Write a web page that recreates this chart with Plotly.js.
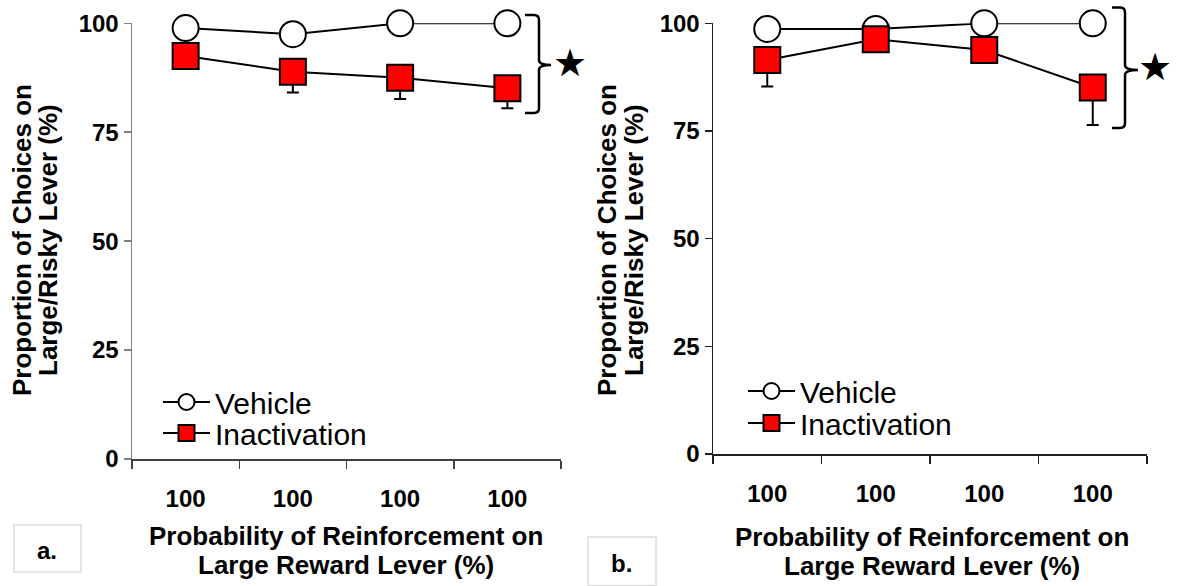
<!DOCTYPE html>
<html>
<head>
<meta charset="utf-8">
<script src="https://cdn.plot.ly/plotly-3.0.1.min.js"></script>
<style>html,body{margin:0;padding:0;background:#fff;}#chart{width:1177px;height:586px;}</style>
</head>
<body>
<div id="chart"></div>
<script>
// ---- data ----
const categories = [0, 1, 2, 3];
const tickLabels = ["100", "100", "100", "100"];
const vehicleA = [98.9, 97.5, 100, 100];
const inactA = [92.5, 88.9, 87.5, 85.1];
const inactAErr = [1.0, 4.8, 4.9, 4.6];
const vehicleB = [98.7, 98.7, 100, 100];
const inactB = [91.5, 96.3, 93.8, 85.1];
const inactBErr = [6.2, 1.5, 1.5, 8.7];
const seriesNames = ["Vehicle", "Inactivation"];
const yTicks = [0, 25, 50, 75, 100];

// ---- layout helpers (pixel -> paper) ----
const W = 1177, H = 586;
const px = x => x / W;
const py = y => (H - y) / H;
const FONT = "Liberation Sans, Arial, sans-serif";

function vehTrace(y, xa, ya, leg) {
  return {x: categories, y: y, xaxis: xa, yaxis: ya, name: seriesNames[0], legend: leg,
    mode: "lines+markers", line: {color: "#000", width: 2},
    marker: {symbol: "circle", size: 26, color: "#fff", line: {color: "#000", width: 2}},
    cliponaxis: false};
}
function inaTrace(y, err, xa, ya, leg) {
  return {x: categories, y: y, xaxis: xa, yaxis: ya, name: seriesNames[1], legend: leg,
    mode: "lines+markers", line: {color: "#000", width: 2},
    marker: {symbol: "square", size: 26, color: "#ff0000", line: {color: "#000", width: 2}},
    error_y: {type: "data", symmetric: false, array: [0,0,0,0], arrayminus: err, color: "#000", thickness: 2, width: 6},
    cliponaxis: false};
}

const data = [
  vehTrace(vehicleA, "x", "y", "legend"),
  inaTrace(inactA, inactAErr, "x", "y", "legend2"),
  vehTrace(vehicleB, "x2", "y2", "legend3"),
  inaTrace(inactB, inactBErr, "x2", "y2", "legend4")
];

function xAxis(d, anchor, col) {
  return {domain: d, anchor: anchor, range: [-0.5, 3.5], fixedrange: true,
    tickmode: "array", tickvals: categories, ticktext: tickLabels,
    ticks: "outside", ticklen: 18, tickcolor: "rgba(0,0,0,0)",
    minor: {tickmode: "linear", tick0: -0.5, dtick: 1, ticks: "outside", ticklen: 8, tickwidth: 1.5, tickcolor: col},
    showline: true, linecolor: col, linewidth: 1.5, showgrid: false, zeroline: false,
    tickfont: {family: FONT, size: 24, color: "#000", weight: "bold"}};
}
function yAxis(d, anchor, col) {
  return {domain: d, anchor: anchor, range: [0, 100], fixedrange: true,
    tickmode: "array", tickvals: yTicks, ticks: "outside", ticklen: 7, tickwidth: 1.5, tickcolor: col,
    showline: true, linecolor: col, linewidth: 1.5, showgrid: false, zeroline: false,
    tickfont: {family: FONT, size: 24, color: "#000", weight: "bold"}};
}

function legendAt(x, y) {
  return {x: px(x), y: py(y), xanchor: "left", yanchor: "middle", bgcolor: "rgba(0,0,0,0)",
    borderwidth: 0, itemwidth: 47, font: {family: FONT, size: 30, color: "#000"}};
}

function brace(x0, xv, xt, yt, yb, ym) {
  const r = 5;
  const P = (x, y) => px(x).toFixed(5) + "," + py(y).toFixed(5);
  return "M" + P(x0, yt) + " L" + P(xv - r, yt) + " Q" + P(xv, yt) + " " + P(xv, yt + r) +
    " L" + P(xv, ym - r) + " Q" + P(xv, ym) + " " + P(xt, ym) + " Q" + P(xv, ym) + " " + P(xv, ym + r) +
    " L" + P(xv, yb - r) + " Q" + P(xv, yb) + " " + P(xv - r, yb) + " L" + P(x0, yb);
}

const bold = (s) => ({family: FONT, size: s, color: "#000", weight: "bold"});
function ann(text, x, y, font, angle) {
  return {text: text, x: px(x), y: py(y), xref: "paper", yref: "paper", showarrow: false,
    xanchor: "center", yanchor: "middle", font: font, textangle: angle || 0};
}

const layout = {
  width: W, height: H, margin: {l: 0, r: 0, t: 0, b: 0},
  paper_bgcolor: "#fff", plot_bgcolor: "rgba(0,0,0,0)", showlegend: true,
  xaxis: xAxis([px(132), px(561)], "y", "#404040"),
  yaxis: yAxis([py(459), py(23.3)], "x", "#808080"),
  xaxis2: xAxis([px(713), px(1147)], "y2", "#202020"),
  yaxis2: yAxis([py(454), py(23.3)], "x2", "#202020"),
  legend: legendAt(158, 402),
  legend2: legendAt(158, 433),
  legend3: legendAt(743, 391),
  legend4: legendAt(743, 423),
  shapes: [
    {type: "path", xref: "paper", yref: "paper", path: brace(525, 539, 551, 15, 113, 65), line: {color: "#000", width: 2.5}},
    {type: "path", xref: "paper", yref: "paper", path: brace(1112, 1125, 1138, 7.5, 128, 70), line: {color: "#000", width: 2.5}},
    {type: "rect", xref: "paper", yref: "paper", x0: px(14), x1: px(81), y0: py(525), y1: py(572), line: {color: "#dddddd", width: 1.5}},
    {type: "rect", xref: "paper", yref: "paper", x0: px(588), x1: px(656), y0: py(537), y1: py(585.5), line: {color: "#dddddd", width: 1.5}}
  ],
  annotations: [
    ann("★", 570, 63, {family: "DejaVu Sans", size: 38, color: "#000"}),
    ann("★", 1155, 67, {family: "DejaVu Sans", size: 38, color: "#000"}),
    ann("Proportion of Choices on", 22, 240, bold(26), -90),
    ann("Large/Risky Lever (%)", 48, 240, bold(26), -90),
    ann("Proportion of Choices on", 607, 240, bold(26), -90),
    ann("Large/Risky Lever (%)", 634, 240, bold(26), -90),
    ann("Probability of Reinforcement on", 346, 536, bold(26)),
    ann("Large Reward Lever (%)", 346, 565, bold(26)),
    ann("Probability of Reinforcement on", 932, 537, bold(26)),
    ann("Large Reward Lever (%)", 932, 566, bold(26)),
    ann("a.", 47, 550, bold(24)),
    ann("b.", 621, 563, bold(24))
  ]
};

Plotly.newPlot("chart", data, layout, {staticPlot: true, displayModeBar: false});
</script>
</body>
</html>
